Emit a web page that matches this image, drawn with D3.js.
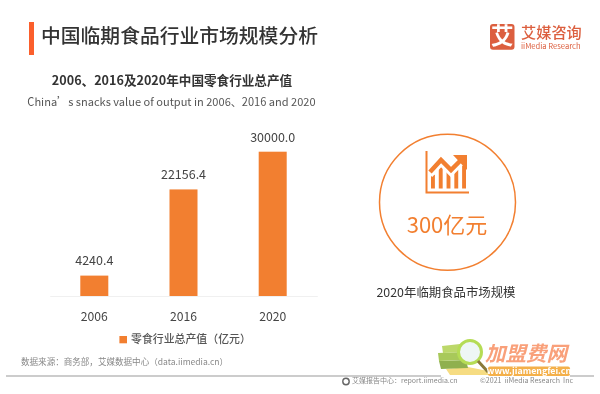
<!DOCTYPE html>
<html>
<head>
<meta charset="utf-8">
<script src="https://cdn.jsdelivr.net/npm/d3@7"></script>
<style>
	html, body { margin: 0; padding: 0; background: #fff; }
	svg { display: block; font-family: "Noto Sans CJK SC", "Noto Sans", sans-serif; filter: blur(0.35px); }
</style>
</head>
<body>
<div id="graphic"></div>
<script>
const years = ['2006', '2016', '2020'];
const outputValues = [4240.4, 22156.4, 30000.0];
const valueLabels = ['4240.4', '22156.4', '30000.0'];
const iconBars = [0.45, 0.72, 0.55, 0.62, 0.85];

const orange = '#f27f30';
const width = 600, height = 394;

const svg = d3.select('#graphic').append('svg')
	.attr('width', width)
	.attr('height', height);

function addText(x, y, str, size, fill, anchor, weight) {
	return svg.append('text')
		.attr('x', x)
		.attr('y', y)
		.attr('dy', '.35em')
		.attr('font-size', size)
		.attr('fill', fill)
		.attr('text-anchor', anchor || 'start')
		.attr('font-weight', weight || 400)
		.text(str);
}

// header
svg.append('rect').attr('x', 29).attr('y', 22).attr('width', 5).attr('height', 33).attr('fill', '#fb5f2c');
addText(41, 36, '中国临期食品行业市场规模分析', 19.8, '#333', 'start', 500);

// logo
svg.append('rect').attr('x', 490).attr('y', 24).attr('width', 24.5).attr('height', 25.7).attr('rx', 3).attr('fill', '#dc5f3f');
addText(502.2, 36.6, '艾', 22.5, '#fff', 'middle', 700);
addText(521, 33, '艾媒咨询', 15.2, '#dc5f3f', 'start', 500);
addText(521, 46.3, 'iiMedia Research', 7.6, '#dc5f3f');

// chart titles
addText(172, 81, '2006、2016及2020年中国零食行业总产值', 12.6, '#333', 'middle', 700);
addText(171.5, 102, 'China’s snacks value of output in 2006、2016 and 2020', 11.05, '#555', 'middle');

// bars
const x = d3.scaleBand()
	.domain(years)
	.range([49.7, 317.3])
	.paddingInner(0.686)
	.paddingOuter(0.343);

const y = d3.scaleLinear()
	.domain([0, 30000])
	.range([296, 151.7]);

const xAxis = svg.append('g')
	.attr('transform', `translate(0, ${y(0)})`)
	.call(d3.axisBottom(x).tickSize(0).tickPadding(16));
xAxis.select('.domain').attr('stroke', '#f0f0f0');
xAxis.selectAll('text')
	.attr('font-size', 12.2)
	.attr('font-family', '"Noto Sans CJK SC"')
	.attr('fill', '#444');

svg.append('g')
	.selectAll('rect')
	.data(years)
	.join('rect')
	.attr('x', d => x(d))
	.attr('y', (d, i) => y(outputValues[i]))
	.attr('width', x.bandwidth())
	.attr('height', (d, i) => y(0) - y(outputValues[i]))
	.attr('fill', orange);

svg.append('g')
	.selectAll('text')
	.data(years)
	.join('text')
	.attr('x', d => x(d) + x.bandwidth() / 2)
	.attr('y', (d, i) => y(outputValues[i]) - 14.5)
	.attr('dy', '.35em')
	.attr('text-anchor', 'middle')
	.attr('font-size', 12.5)
	.attr('fill', '#444')
	.text((d, i) => valueLabels[i]);

// legend
svg.append('rect').attr('x', 119.4).attr('y', 336).attr('width', 7.6).attr('height', 7.3).attr('fill', orange);
addText(131, 339, '零食行业总产值（亿元）', 10.9, '#555', 'start', 500);

// source
addText(21, 362, '数据来源：商务部，艾媒数据中心（data.iimedia.cn）', 8.55, '#888');

// circle with icon
svg.append('circle').attr('cx', 447.5).attr('cy', 202.3).attr('r', 68)
	.attr('fill', 'none').attr('stroke', orange).attr('stroke-width', 1.5);
svg.append('path').attr('d', 'M426.5 151V192.5H469').attr('fill', 'none').attr('stroke', orange).attr('stroke-width', 2);

const iconX = d3.scaleBand().domain(d3.range(iconBars.length)).range([431, 466]).paddingInner(0.5);
const iconY = d3.scaleLinear().domain([0, 1]).range([188.5, 158]);
svg.append('g')
	.selectAll('rect')
	.data(iconBars)
	.join('rect')
	.attr('x', (d, i) => iconX(i))
	.attr('y', d => iconY(d))
	.attr('width', iconX.bandwidth())
	.attr('height', d => iconY(0) - iconY(d))
	.attr('fill', orange);
svg.append('path')
	.attr('d', 'M430 175L441 163L451 173L462 162')
	.attr('fill', 'none').attr('stroke', '#fff').attr('stroke-width', 6);
svg.append('path')
	.attr('d', 'M430 172L441 160L451 170L462 159')
	.attr('fill', 'none').attr('stroke', orange).attr('stroke-width', 4.5);
svg.append('path').attr('d', 'M453 155H467V170Z').attr('fill', orange);

addText(447, 225, '300亿元', 22, orange, 'middle');
addText(446, 292.7, '2020年临期食品市场规模', 12.4, '#333', 'middle');

// footer
svg.append('line').attr('x1', 6).attr('x2', 594).attr('y1', 376).attr('y2', 376).attr('stroke', '#999').attr('stroke-width', 1);
svg.append('circle').attr('cx', 346).attr('cy', 381.5).attr('r', 3.2).attr('fill', 'none').attr('stroke', '#666').attr('stroke-width', 1.4);
addText(352, 381, '艾媒报告中心：report.iimedia.cn', 7, '#888');
addText(480, 381, '©2021  iiMedia Research  Inc', 7.05, '#888').style('white-space', 'pre');

// watermark
const mark = svg.append('g');
mark.append('rect').attr('x', 441).attr('y', 375).attr('width', 129).attr('height', 2).attr('fill', '#fff');
mark.append('path').attr('d', 'M446 369L468 367L488 371L490 375L450 375Z').attr('fill', '#f6dc82');
mark.append('path').attr('d', 'M439 361L466 360L468 368L441 369Z').attr('fill', '#8fb04e');
mark.append('path').attr('d', 'M438 353L462 352L464 360L439 361Z').attr('fill', '#a8c95a');
mark.append('path').attr('d', 'M442 346L460 344L462 352L443 353Z').attr('fill', '#bcd86a');
mark.append('circle').attr('cx', 470).attr('cy', 352).attr('r', 11.5).attr('fill', '#eef6f5').attr('stroke', '#b5dc55').attr('stroke-width', 3);
mark.append('line').attr('x1', 478).attr('y1', 361).attr('x2', 488).attr('y2', 372).attr('stroke', '#8a7a3a').attr('stroke-width', 3);
addText(485, 354, '加盟费网', 20.5, '#f9a07a', 'start', 700).style('font-style', 'italic');
mark.append('rect').attr('x', 488).attr('y', 366.5).attr('width', 82).attr('height', 9.5).attr('rx', 2).attr('fill', '#f4b04a');
addText(529, 371.3, 'www.jiamengfei.cn', 8.8, '#fff', 'middle', 700);
</script>
</body>
</html>
